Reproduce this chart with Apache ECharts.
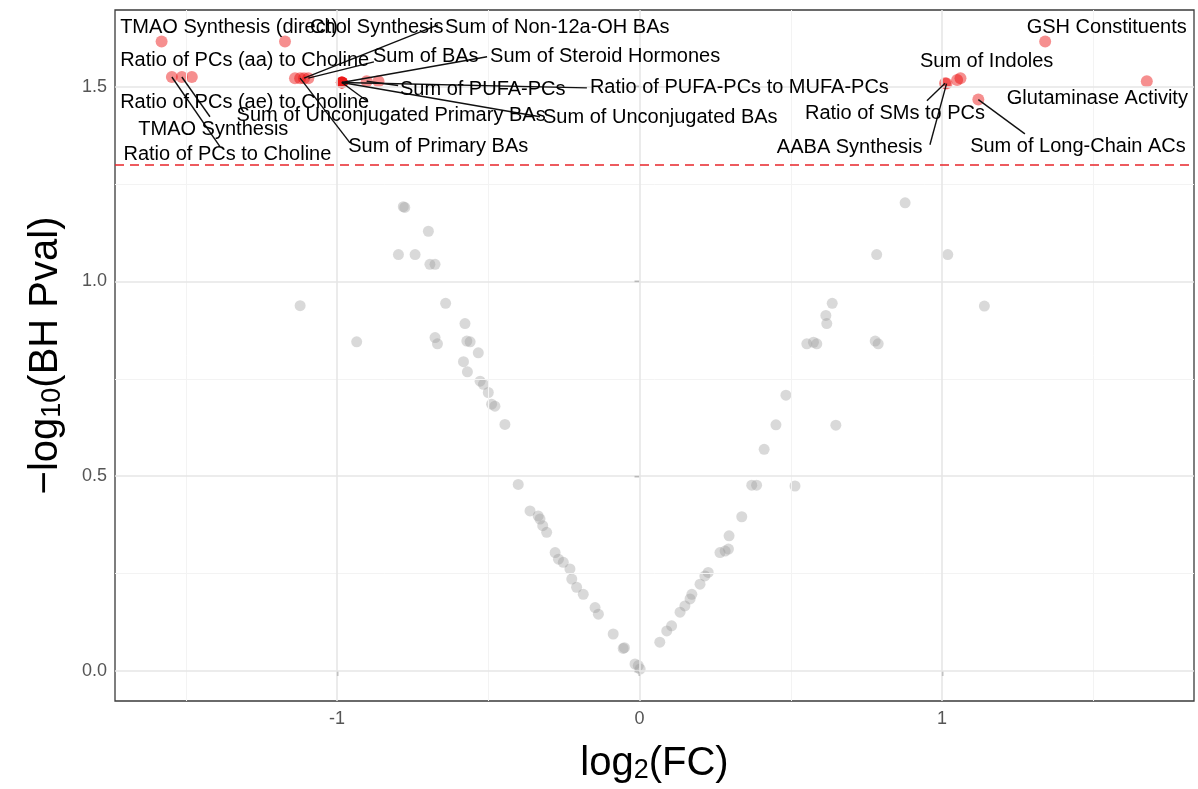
<!DOCTYPE html>
<html>
<head>
<meta charset="utf-8">
<script src="https://cdn.jsdelivr.net/npm/echarts@6/dist/echarts.min.js"></script>
<style>html,body{margin:0;padding:0;background:#fff}#c{width:1198px;height:789px}</style>
</head>
<body>
<div id="c"></div>
<script>
// ---------------- data ----------------
// non-significant metabolite indicators (grey)
const grayX = [-0.781,-0.776,-0.698,-0.797,-0.742,-0.693,-0.676,-1.122,-0.641,-0.577,-0.935,-0.676,-0.668,-0.571,-0.560,-0.533,-0.582,-0.569,-0.527,-0.516,-0.500,-0.489,-0.478,-0.445,-0.401,-0.362,-0.335,-0.329,-0.320,-0.307,-0.279,-0.268,-0.252,-0.230,-0.224,-0.208,-0.186,-0.147,-0.136,-0.087,-0.054,-0.050,-0.015,-0.004,0.002,
  0.067,0.090,0.106,0.134,0.150,0.167,0.173,0.200,0.216,0.227,0.266,0.283,0.294,0.296,0.338,0.371,0.387,0.412,0.514,0.451,0.484,0.649,0.553,0.575,0.586,0.616,0.619,0.637,0.779,0.789,0.784,0.878,1.019,1.140];
const grayY = [1.192,1.190,1.129,1.069,1.069,1.044,1.044,0.938,0.944,0.892,0.845,0.856,0.840,0.847,0.845,0.817,0.794,0.768,0.744,0.736,0.715,0.685,0.680,0.633,0.479,0.411,0.398,0.390,0.373,0.356,0.304,0.287,0.279,0.262,0.236,0.215,0.197,0.163,0.146,0.095,0.058,0.060,0.018,0.014,0.005,
  0.074,0.103,0.116,0.151,0.167,0.185,0.197,0.223,0.244,0.253,0.304,0.308,0.313,0.347,0.396,0.477,0.477,0.569,0.475,0.632,0.708,0.631,0.840,0.844,0.840,0.913,0.892,0.944,0.847,0.840,1.069,1.202,1.069,0.937];

// significant indicators (red)
const sigLabels = [
  "TMAO Synthesis (direct)","Chol Synthesis","Ratio of PCs to Choline","TMAO Synthesis","Ratio of PCs (ae) to Choline",
  "Ratio of PCs (aa) to Choline","Sum of Primary BAs","Sum of Non-12a-OH BAs","Sum of BAs",
  "Sum of Steroid Hormones","Ratio of PUFA-PCs to MUFA-PCs","Sum of Unconjugated BAs","Sum of Unconjugated Primary BAs",
  "Sum of PUFA-PCs","",
  "GSH Constituents","Ratio of SMs to PCs","AABA Synthesis","Sum of Indoles","","Sum of Long-Chain ACs","Glutaminase Activity"];
const sigX = [-1.580,-1.172,-1.546,-1.513,-1.480,-1.139,-1.122,-1.109,-1.095,-0.984,-0.984,-0.984,-0.984,-0.902,-0.863,
  1.341,1.010,1.015,1.050,1.061,1.120,1.677];
const sigY = [1.616,1.616,1.525,1.525,1.525,1.522,1.522,1.522,1.522,1.511,1.511,1.511,1.511,1.514,1.514,
  1.616,1.509,1.508,1.517,1.522,1.467,1.514];

// label anchors (left edge, vertical middle) in data units
const labelX = [-1.717,-1.089,-1.706,-1.657,-1.717,-1.717,-0.963,-0.643,-0.881,-0.494,-0.164,-0.319,-1.332,-0.792,null,
  1.280,0.547,0.454,0.927,null,1.093,1.214];
const labelY = [1.651,1.651,1.326,1.390,1.459,1.567,1.346,1.651,1.577,1.577,1.497,1.421,1.426,1.492,null,
  1.651,1.431,1.344,1.564,null,1.346,1.469];
// repel segment end points in data units (null = no segment)
const segEndX = [null,null,-1.387,-1.420,null,null,-0.957,-0.666,-0.878,-0.504,-0.174,-0.329,-0.899,-0.798,null,
  null,0.950,0.960,null,null,1.274,null];
const segEndY = [null,null,1.346,1.423,null,null,1.356,1.659,1.564,1.577,1.497,1.423,1.462,1.503,null,
  null,1.464,1.351,null,null,1.379,null];

const xTicks = [-1, 0, 1];
const yTicks = [0, 0.5, 1, 1.5];
const xMinor = [-1.5, -0.5, 0.5, 1.5];
const yMinor = [0.25, 0.75, 1.25];
const threshold = -Math.log10(0.05);

// ---------------- chart ----------------
const font = '"Liberation Sans", Arial, Helvetica, sans-serif';
const chart = echarts.init(document.getElementById('c'), null, {renderer: 'canvas'});

const gridLines = [];
xMinor.forEach(v => gridLines.push({xAxis: v, lineStyle: {color: '#f3f3f3', width: 1, type: 'solid'}}));
yMinor.forEach(v => gridLines.push({yAxis: v, lineStyle: {color: '#f3f3f3', width: 1, type: 'solid'}}));
xTicks.forEach(v => gridLines.push({xAxis: v, lineStyle: {color: '#e6e6e6', width: 1.6, type: 'solid'}}));
yTicks.forEach(v => gridLines.push({yAxis: v, lineStyle: {color: '#e6e6e6', width: 1.6, type: 'solid'}}));

const grayData = grayX.map((x, i) => [x, grayY[i]]);
const sigData = sigX.map((x, i) => ({name: sigLabels[i], value: [x, sigY[i]]}));
const labelData = [];
const segData = [];
sigLabels.forEach((lab, i) => {
  if (lab && labelX[i] !== null) labelData.push({name: lab, value: [labelX[i], labelY[i]]});
  if (segEndX[i] !== null) segData.push({coords: [[sigX[i], sigY[i]], [segEndX[i], segEndY[i]]]});
});

const titleRich = (big, small) => ({
  m: {fontSize: big, fontFamily: font, color: '#000', lineHeight: big + 6, verticalAlign: 'bottom'},
  s: {fontSize: small, fontFamily: font, color: '#000', lineHeight: Math.round(big * 0.45), verticalAlign: 'bottom'}
});

chart.setOption({
  animation: false,
  backgroundColor: '#fff',
  grid: {left: 115, right: 4, top: 10, bottom: 87, show: true, borderColor: '#3a3a3a', borderWidth: 1.3, backgroundColor: 'transparent'},
  xAxis: {
    type: 'value', min: -1.734, max: 1.833,
    axisLine: {show: false},
    splitLine: {show: false},
    axisTick: {show: true, customValues: xTicks, length: 5, lineStyle: {color: '#333', width: 1.3}},
    axisLabel: {customValues: xTicks, color: '#555', fontSize: 18, fontFamily: font, margin: 9},
    name: '{m|log}{s|2}{m|(FC)}',
    nameLocation: 'middle', nameGap: 37,
    nameTextStyle: {fontSize: 40, fontFamily: font, color: '#000', rich: titleRich(40, 27)}
  },
  yAxis: {
    type: 'value', min: -0.077, max: 1.697,
    axisLine: {show: false},
    splitLine: {show: false},
    axisTick: {show: true, customValues: yTicks, length: 5, lineStyle: {color: '#333', width: 1.3}},
    axisLabel: {customValues: yTicks, color: '#555', fontSize: 18, fontFamily: font, margin: 8,
      formatter: v => v.toFixed(1)},
    name: '{m|\u2212log}{s|10}{m|(BH Pval)}',
    nameLocation: 'middle', nameGap: 49,
    nameTextStyle: {fontSize: 40, fontFamily: font, color: '#000', rich: titleRich(40, 27)}
  },
  series: [
    {
      type: 'scatter', data: [], silent: true, z: 1,
      markLine: {silent: true, symbol: ['none', 'none'], label: {show: false}, animation: false, data: gridLines}
    },
    {
      type: 'scatter', data: grayData, symbolSize: 11, silent: true, z: 2,
      itemStyle: {color: 'rgba(150,150,150,0.45)'}
    },
    {
      type: 'scatter', data: [], silent: true, z: 3,
      markLine: {silent: true, symbol: ['none', 'none'], label: {show: false}, animation: false,
        data: [{yAxis: threshold, lineStyle: {color: '#e8262b', width: 1.6, type: [9, 6]}}]}
    },
    {
      type: 'scatter', data: sigData, symbolSize: 12, silent: true, z: 4,
      itemStyle: {color: 'rgba(235,0,0,0.55)'}
    },
    {
      type: 'lines', coordinateSystem: 'cartesian2d', data: segData, silent: true, z: 5,
      lineStyle: {color: '#111', width: 1.4, opacity: 1, curveness: 0}
    },
    {
      type: 'scatter', data: labelData, symbolSize: 0, silent: true, z: 6,
      itemStyle: {color: 'rgba(0,0,0,0)', opacity: 1},
      label: {show: true, position: 'right', distance: 0, formatter: '{b}', fontSize: 20, fontFamily: font, color: '#000', opacity: 1}
    }
  ]
});
</script>
</body>
</html>
